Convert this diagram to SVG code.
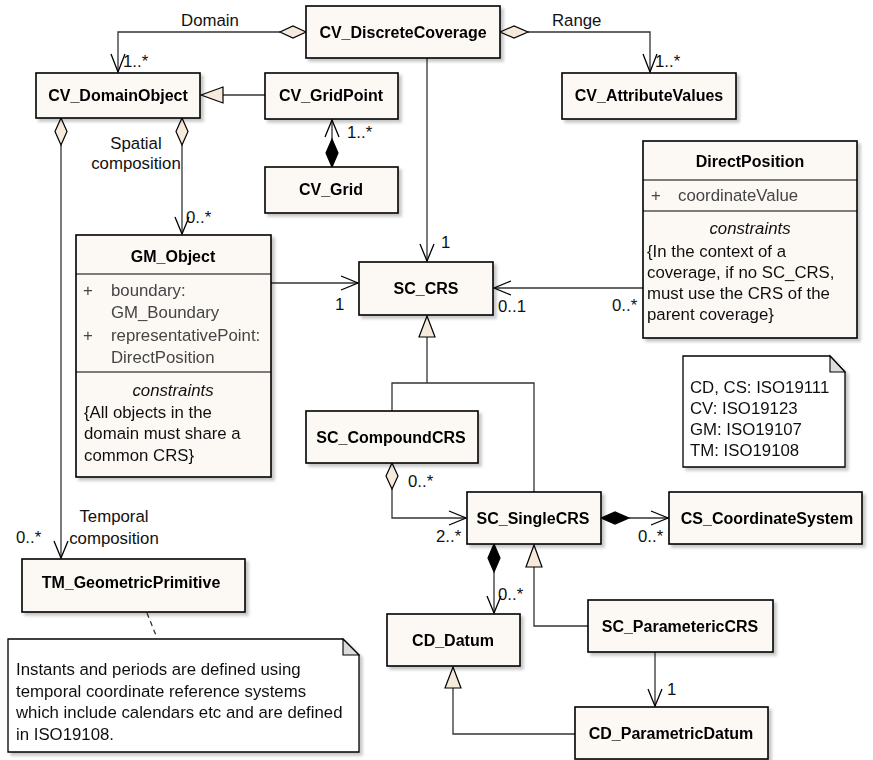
<svg xmlns="http://www.w3.org/2000/svg" width="873" height="760" viewBox="0 0 873 760">
<style>
  text { font-family: "Liberation Sans", Arial, sans-serif; font-size: 16.8px; fill: #111; }
  .t { font-weight: bold; font-size: 16px; text-anchor: middle; fill: #000; }
  .c { text-anchor: middle; }
  .i { font-style: italic; text-anchor: middle; }
  .a { fill: #444; }
  .box { fill: #FCF9F5; stroke: #000; stroke-width: 1.6; }
  .sep { stroke: #000; stroke-width: 1.2; }
  .ln { fill: none; stroke: #333; stroke-width: 1.3; }
  .open { fill: none; stroke: #000; stroke-width: 1.3; }
  .hollow { fill: #F5EADB; stroke: #000; stroke-width: 1.2; }
  .solid { fill: #000; stroke: #000; stroke-width: 1.2; }
  .note { fill: #FFFFFF; stroke: #000; stroke-width: 1.3; }
  .fold { fill: #DCDCDC; stroke: #000; stroke-width: 1.1; }
</style>
<defs>
  <filter id="sh" x="-10%" y="-10%" width="130%" height="130%">
    <feDropShadow dx="3" dy="3" stdDeviation="1.5" flood-color="#000" flood-opacity="0.22"/>
  </filter>
</defs>

<g id="connectors">
  <!-- Domain -->
  <polyline class="ln" points="280,32 118,32 118,72"/>
  <polygon class="hollow" points="306,32 293,26 280,32 293,38"/>
  <polyline class="open" points="111,54 118,72 125,54"/>
  <!-- Range -->
  <polyline class="ln" points="528,32 650,32 650,72"/>
  <polygon class="hollow" points="500,32 514,26 528,32 514,38"/>
  <polyline class="open" points="643,54 650,72 657,54"/>
  <!-- GridPoint generalization -->
  <line class="ln" x1="265" y1="95" x2="223" y2="95"/>
  <polygon class="hollow" points="201,95 223,87 223,103"/>
  <!-- Grid composition -->
  <line class="ln" x1="332" y1="139" x2="332" y2="120"/>
  <polygon class="solid" points="332,167 326,153 332,139 338,153"/>
  <polyline class="open" points="325,137 332,120 339,137"/>
  <!-- Coverage to SC_CRS -->
  <line class="ln" x1="427" y1="58" x2="427" y2="261"/>
  <polyline class="open" points="420,244 427,261 434,244"/>
  <!-- Spatial composition -->
  <line class="ln" x1="182" y1="145" x2="182" y2="234"/>
  <polygon class="hollow" points="182,118 176,131.5 182,145 188,131.5"/>
  <polyline class="open" points="175,217 182,234 189,217"/>
  <!-- Temporal composition -->
  <line class="ln" x1="61" y1="145" x2="61" y2="558"/>
  <polygon class="hollow" points="61,118 55,131.5 61,145 67,131.5"/>
  <polyline class="open" points="54,541 61,558 68,541"/>
  <!-- GM_Object to SC_CRS -->
  <line class="ln" x1="271" y1="283" x2="358" y2="283"/>
  <polyline class="open" points="341,276 358,283 341,290"/>
  <!-- DirectPosition to SC_CRS -->
  <line class="ln" x1="643" y1="288" x2="494" y2="288"/>
  <polyline class="open" points="511,281 494,288 511,295"/>
  <!-- SC_CRS generalization -->
  <polyline class="ln" points="392,411 392,383 534,383 534,492"/>
  <line class="ln" x1="427" y1="383" x2="427" y2="337"/>
  <polygon class="hollow" points="427,316 419,337 435,337"/>
  <!-- CompoundCRS aggregation -->
  <polyline class="ln" points="392,489 392,518 466,518"/>
  <polygon class="hollow" points="392,463 386,476 392,489 398,476"/>
  <polyline class="open" points="449,511 466,518 449,525"/>
  <!-- SingleCRS to CoordinateSystem -->
  <line class="ln" x1="629" y1="518" x2="668" y2="518"/>
  <polygon class="solid" points="601,518 615,512 629,518 615,524"/>
  <polyline class="open" points="651,511 668,518 651,525"/>
  <!-- SingleCRS to Datum -->
  <line class="ln" x1="494" y1="572" x2="494" y2="613"/>
  <polygon class="solid" points="494,544 488,558 494,572 500,558"/>
  <polyline class="open" points="487,596 494,613 501,596"/>
  <!-- ParametericCRS generalization -->
  <polyline class="ln" points="588,626 534,626 534,567"/>
  <polygon class="hollow" points="534,545 526,567 542,567"/>
  <!-- ParametericCRS to ParametricDatum -->
  <line class="ln" x1="655" y1="652" x2="655" y2="706"/>
  <polyline class="open" points="648,689 655,706 662,689"/>
  <!-- ParametricDatum generalization -->
  <polyline class="ln" points="575,734 453,734 453,688"/>
  <polygon class="hollow" points="453,667 445,688 461,688"/>
  <!-- note link -->
  <line class="ln" x1="147" y1="613" x2="157" y2="638" stroke-dasharray="5,4"/>
</g>

<g id="labels">
  <text class="c" x="210" y="26">Domain</text>
  <text x="123" y="67">1..*</text>
  <text x="552" y="26">Range</text>
  <text x="655" y="67">1..*</text>
  <text x="347" y="138">1..*</text>
  <text class="c" x="136" y="149">Spatial</text>
  <text class="c" x="136" y="169">composition</text>
  <text x="186" y="223">0..*</text>
  <text x="441" y="248">1</text>
  <text x="335" y="310">1</text>
  <text x="498" y="312">0..1</text>
  <text x="612" y="311">0..*</text>
  <text x="408" y="487">0..*</text>
  <text x="436" y="542">2..*</text>
  <text x="638" y="542">0..*</text>
  <text x="498" y="600">0..*</text>
  <text x="667" y="695">1</text>
  <text x="16" y="543">0..*</text>
  <text class="c" x="114" y="522">Temporal</text>
  <text class="c" x="114" y="544">composition</text>
</g>

<g id="CV_DiscreteCoverage" filter="url(#sh)">
  <rect class="box" x="306" y="6" width="194" height="52"/>
  <text class="t" x="403" y="38">CV_DiscreteCoverage</text>
</g>
<g id="CV_DomainObject" filter="url(#sh)">
  <rect class="box" x="36" y="73" width="164" height="45"/>
  <text class="t" x="118" y="101">CV_DomainObject</text>
</g>
<g id="CV_GridPoint" filter="url(#sh)">
  <rect class="box" x="265" y="73" width="133" height="46"/>
  <text class="t" x="331" y="101">CV_GridPoint</text>
</g>
<g id="CV_Grid" filter="url(#sh)">
  <rect class="box" x="265" y="167" width="133" height="46"/>
  <text class="t" x="331" y="195">CV_Grid</text>
</g>
<g id="CV_AttributeValues" filter="url(#sh)">
  <rect class="box" x="562" y="73" width="174" height="46"/>
  <text class="t" x="649" y="101">CV_AttributeValues</text>
</g>
<g id="DirectPosition" filter="url(#sh)">
  <rect class="box" x="643" y="141" width="214" height="197"/>
  <line class="sep" x1="643" y1="180" x2="857" y2="180"/>
  <line class="sep" x1="643" y1="211" x2="857" y2="211"/>
  <text class="t" x="750" y="167">DirectPosition</text>
  <text class="a" x="651" y="201">+</text>
  <text class="a" x="678" y="201">coordinateValue</text>
  <text class="i" x="750" y="234">constraints</text>
  <text x="647" y="257">{In the context of a</text>
  <text x="647" y="278">coverage, if no SC_CRS,</text>
  <text x="647" y="299">must use the CRS of the</text>
  <text x="647" y="320">parent coverage}</text>
</g>
<g id="GM_Object" filter="url(#sh)">
  <rect class="box" x="76" y="235" width="195" height="242"/>
  <line class="sep" x1="76" y1="274" x2="271" y2="274"/>
  <line class="sep" x1="76" y1="372" x2="271" y2="372"/>
  <text class="t" x="173" y="262">GM_Object</text>
  <text class="a" x="83" y="296">+</text>
  <text class="a" x="111" y="296">boundary:</text>
  <text class="a" x="111" y="318">GM_Boundary</text>
  <text class="a" x="83" y="341">+</text>
  <text class="a" x="111" y="341">representativePoint:</text>
  <text class="a" x="111" y="363">DirectPosition</text>
  <text class="i" x="173" y="396">constraints</text>
  <text x="84" y="418">{All objects in the</text>
  <text x="84" y="439">domain must share a</text>
  <text x="84" y="461">common CRS}</text>
</g>
<g id="SC_CRS" filter="url(#sh)">
  <rect class="box" x="359" y="262" width="134" height="53"/>
  <text class="t" x="426" y="294">SC_CRS</text>
</g>
<g id="SC_CompoundCRS" filter="url(#sh)">
  <rect class="box" x="306" y="411" width="172" height="52"/>
  <text class="t" x="391" y="443">SC_CompoundCRS</text>
</g>
<g id="SC_SingleCRS" filter="url(#sh)">
  <rect class="box" x="467" y="492" width="134" height="52"/>
  <text class="t" x="533" y="524">SC_SingleCRS</text>
</g>
<g id="CS_CoordinateSystem" filter="url(#sh)">
  <rect class="box" x="669" y="492" width="193" height="52"/>
  <text class="t" x="767" y="524">CS_CoordinateSystem</text>
</g>
<g id="SC_ParametericCRS" filter="url(#sh)">
  <rect class="box" x="588" y="600" width="185" height="52"/>
  <text class="t" x="680" y="632">SC_ParametericCRS</text>
</g>
<g id="CD_Datum" filter="url(#sh)">
  <rect class="box" x="387" y="614" width="133" height="52"/>
  <text class="t" x="453" y="646">CD_Datum</text>
</g>
<g id="CD_ParametricDatum" filter="url(#sh)">
  <rect class="box" x="575" y="707" width="193" height="52"/>
  <text class="t" x="671" y="739">CD_ParametricDatum</text>
</g>
<g id="TM_GeometricPrimitive" filter="url(#sh)">
  <rect class="box" x="22" y="559" width="223" height="53"/>
  <text class="t" x="131" y="588">TM_GeometricPrimitive</text>
</g>
<g id="note_temporal" filter="url(#sh)">
  <polygon class="note" points="8,639 343,639 359,655 359,752 8,752"/>
  <polygon class="fold" points="343,639 343,655 359,655"/>
  <text x="16" y="675">Instants and periods are defined using</text>
  <text x="16" y="697">temporal coordinate reference systems</text>
  <text x="16" y="718">which include calendars etc and are defined</text>
  <text x="16" y="740">in ISO19108.</text>
</g>
<g id="note_standards" filter="url(#sh)">
  <polygon class="note" points="683,356 830,356 845,372 845,467 683,467"/>
  <polygon class="fold" points="830,356 830,372 845,372"/>
  <text x="690" y="393">CD, CS: ISO19111</text>
  <text x="690" y="414">CV: ISO19123</text>
  <text x="690" y="435">GM: ISO19107</text>
  <text x="690" y="456">TM: ISO19108</text>
</g>
</svg>
